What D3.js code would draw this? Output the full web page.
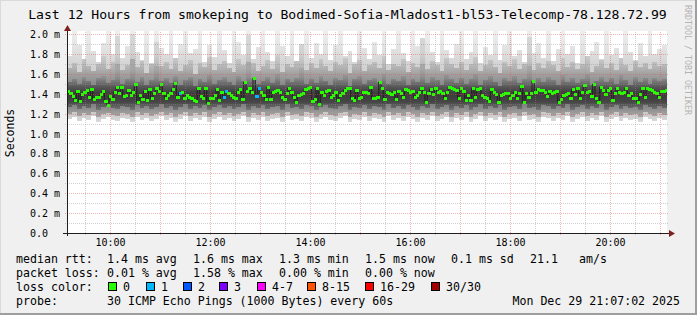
<!DOCTYPE html>
<html>
<head>
<meta charset="utf-8">
<script src="https://cdn.jsdelivr.net/npm/d3@7"></script>
<style>
    body { margin: 0; background: #f0f0f0; }
    svg { display: block; font-family: "DejaVu Sans Mono", monospace; }
</style>
</head>
<body>
<div id="chart"></div>
<script>

// smokeping graph, last 12 hours

// ---- data ----

const chartTitle = 'Last 12 Hours from smokeping to Bodimed-Sofia-Mladost1-bl53-Telecomp-78.128.72.99';
const yAxisTitle = 'Seconds';
const timeStart = new Date(2025, 11, 29, 9, 8);
const timeEnd = new Date(2025, 11, 29, 21, 8);

// median rtt per step, in hundredths of a ms
const medianRtt = [
    143,141,138,134,143,133,140,142,144,137,145,135,137,137,140,143,133,129,138,135,142,147,141,147,138,139,144,139,142,150,
    132,139,135,143,134,145,136,141,146,143,150,141,136,139,141,145,151,137,141,142,136,139,
    137,136,134,133,146,138,136,146,131,136,136,139,145,134,142,137,143,141,139,137,136,142,145,135,152,143,146,142,156,138,
    146,142,139,135,147,135,142,143,144,142,137,135,141,146,142,137,132,139,140,141,145,
    146,147,133,135,146,130,142,139,143,144,137,139,142,134,139,141,144,146,146,136,134,144,136,137,142,142,141,147,136,136,
    137,152,146,135,142,141,140,142,135,143,141,137,145,144,142,143,137,139,142,146,142,
    132,141,145,140,146,142,143,141,136,142,147,146,145,144,136,146,143,134,139,134,146,137,145,146,139,137,136,133,145,142,
    140,132,139,140,141,141,136,139,142,136,141,148,132,141,137,141,153,142,145,144,144,142,
    138,143,141,142,143,132,135,139,140,141,136,145,140,146,136,142,149,142,143,138,150,136,132,147,144,140,144,146,134,141,
    146,142,141,142,146,139,141,136,136,132,140,146,137,146,145,144,142,141,137,143,143,144
];

// steps with lost pings (out of 30)
const lossSteps = [48, 67, 68, 81, 82];
const lossPings = [1, 1, 1, 1, 1];

// smoke: ping distribution per column, in hundredths of a ms
const smokeMax = [
    178,204,189,175,205,183,172,191,205,180,205,176,188,205,182,174,203,171,205,186,
    180,205,173,190,205,181,185,205,172,189,177,205,184,171,205,192,179,205,175,187,
    205,182,173,205,188,178,204,171,184,205,176,191,180,205,174,189,205,178,183,172,
    205,186,175,192,179,205,170,185,205,181,173,205,188,177,203,182,172,205,184,176,
    190,205,175,182,205,171,187,179,205,174,189,205,178,184,172,205,181,191,176,205,
    173,185,205,180,188,171,205,177,183,192,175,205,179,186,170,205,182,174,191,178,
    205,180,185,189
];
const smokeP90 = [
    166,171,162,175,168,163,170,178,165,172,198,164,169,200,167,173,161,170,192,168,
    172,165,176,163,169,174,160,171,167,177,164,170,173,166,162,175,169,199,171,163,
    168,174,165,179,162,170,167,173,190,164,171,166,175,168,163,172,169,176,161,170,
    174,163,169,172,166,178,164,170,168,175,162,171,167,196,165,173,169,163,176,170,
    166,172,164,170,177,163,169,174,167,161,172,168,175,165,170,197,164,171,166,173,
    169,163,176,167,172,165,170,178,162,168,174,166,171,164,176,169,163,173,167,171,
    165,172,168,170
];
const smokeP75 = [
    152,155,150,157,153,149,156,158,151,154,170,150,155,175,152,157,149,154,168,153,
    156,151,158,149,154,157,148,155,152,159,150,154,157,152,149,158,153,172,155,150,
    153,157,151,160,149,155,152,156,166,150,155,151,158,153,149,156,154,159,148,155,
    158,150,154,156,151,160,150,155,153,158,149,155,152,170,151,157,154,149,159,155,
    151,156,150,155,160,149,154,158,152,148,156,153,158,151,155,168,150,156,152,157,
    154,149,159,152,156,151,155,160,149,153,157,152,156,150,159,154,149,157,152,156,
    150,156,153,155
];
const smokeP25 = [
    127,129,125,128,126,130,124,127,129,126,125,128,127,124,129,126,128,125,127,130,
    126,128,124,127,130,125,128,126,129,124,127,129,126,128,125,127,130,124,128,126,
    129,125,127,128,124,130,126,127,125,129,128,124,127,129,126,125,128,130,124,127,
    126,129,125,128,127,124,130,126,128,125,129,127,124,128,126,130,125,127,129,124,
    128,126,129,124,127,130,125,128,126,129,124,127,128,125,130,126,127,124,129,128,
    125,128,126,130,124,127,129,125,128,126,130,124,127,129,125,128,126,127,124,129,
    127,125,128,126
];
const smokeP10 = [
    120,122,118,121,119,122,117,120,121,119,118,121,120,117,122,119,121,118,120,122,
    119,121,117,120,122,118,121,119,122,117,120,122,119,121,118,120,122,117,121,119,
    122,118,120,121,117,122,119,120,118,122,121,117,120,122,119,118,121,122,117,120,
    119,122,118,121,120,117,122,119,121,118,122,120,117,121,119,122,118,120,122,117,
    121,119,122,117,120,122,118,121,119,122,117,120,121,118,122,119,120,117,122,121,
    118,121,119,122,117,120,122,118,121,119,122,117,120,122,118,121,119,120,117,122,
    120,118,121,119
];
const smokeMin = [
    115,117,113,116,114,118,112,115,117,114,113,116,115,112,117,114,116,113,115,118,
    114,116,112,115,118,113,116,114,117,112,115,117,114,116,113,115,118,112,116,114,
    117,113,115,116,112,118,114,115,113,117,116,112,115,117,114,113,116,118,112,115,
    114,117,113,116,115,112,118,114,116,113,117,115,112,116,114,118,113,115,117,112,
    116,114,117,112,115,118,113,116,114,117,112,115,116,113,118,114,115,112,117,116,
    113,116,114,118,112,115,117,113,116,114,118,112,115,117,113,116,114,115,112,117,
    115,113,116,114
];

// axis ticks (ms) and labels
const yMajorTicks = [0, 0.2, 0.4, 0.6, 0.8, 1.0, 1.2, 1.4, 1.6, 1.8, 2.0];
const yTickLabels = ['0.0', '0.2 m', '0.4 m', '0.6 m', '0.8 m', '1.0 m', '1.2 m', '1.4 m', '1.6 m', '1.8 m', '2.0 m'];
const yMinorTicks = [0.1, 0.3, 0.5, 0.7, 0.9, 1.1, 1.3, 1.5, 1.7, 1.9];
const xLabelHours = [10, 12, 14, 16, 18, 20];
const xTickLabels = ['10:00', '12:00', '14:00', '16:00', '18:00', '20:00'];
const xMajorHours = [10, 11, 12, 13, 14, 15, 16, 17, 18, 19, 20, 21];
const xMinorHours = [9.5, 10.5, 11.5, 12.5, 13.5, 14.5, 15.5, 16.5, 17.5, 18.5, 19.5, 20.5];

// legend
const rttLegend = ['1.4 ms avg', '1.6 ms max', '1.3 ms min', '1.5 ms now', '0.1 ms sd', '21.1', 'am/s'];
const lossLegend = ['0.01 % avg', '1.58 % max', '0.00 % min', '0.00 % now'];
const lossLabels = ['0', '1', '2', '3', '4-7', '8-15', '16-29', '30/30'];
const lossColors = ['#26ff00', '#00b8ff', '#0059ff', '#7e00ff', '#ff00ff', '#ff5500', '#ff0000', '#a10000'];
const probeText = '30 ICMP Echo Pings (1000 Bytes) every 60s';
const stampText = 'Mon Dec 29 21:07:02 2025';


// ---- drawing ----

const W = 697, H = 315;
const plot = {left: 67, right: 667, top: 31, bottom: 233};

const svg = d3.select('#chart').append('svg')
    .attr('width', W)
    .attr('height', H);

// background and 3d frame
svg.append('rect').attr('width', W).attr('height', H).attr('fill', '#f0f0f0');
svg.append('rect').attr('x', 0).attr('y', H - 2).attr('width', W).attr('height', 2).attr('fill', '#9e9e9e');
svg.append('rect').attr('x', W - 2).attr('y', 0).attr('width', 2).attr('height', H).attr('fill', '#9e9e9e');
svg.append('rect').attr('x', 0).attr('y', 0).attr('width', W - 2).attr('height', 1).attr('fill', '#dadada');
svg.append('rect').attr('x', 0).attr('y', 0).attr('width', 1).attr('height', H - 2).attr('fill', '#dadada');

// canvas
svg.append('rect')
    .attr('x', plot.left).attr('y', plot.top)
    .attr('width', plot.right - plot.left).attr('height', plot.bottom - plot.top)
    .attr('fill', '#ffffff');

// scales
const x = d3.scaleTime()
    .domain([timeStart, timeEnd])
    .range([plot.left, plot.right])
    .interpolate(d3.interpolateRound);

const y = d3.scaleLinear()
    .domain([0, 2])
    .range([plot.bottom, 34])
    .interpolate(d3.interpolateRound);

const hourToDate = h => new Date(2025, 11, 29, Math.floor(h), Math.round((h % 1) * 60));

svg.append('clipPath').attr('id', 'plotClip')
    .append('rect')
    .attr('x', plot.left).attr('y', plot.top)
    .attr('width', plot.right - plot.left).attr('height', plot.bottom - plot.top);

// vertical shading of the smoke layers, darker towards the median,
// matched at the layer edges so the bands blend like smoke
const defs = svg.append('defs');
function addShade(id, stops) {
    let g = defs.append('linearGradient')
        .attr('id', id)
        .attr('gradientUnits', 'userSpaceOnUse')
        .attr('x1', 0).attr('x2', 0)
        .attr('y1', y(2.0)).attr('y2', y(1.1));
    stops.forEach(s => g.append('stop').attr('offset', (2.0 - s[0]) / 0.9).attr('stop-color', s[1]));
}
addShade('lightSmoke', [[2.0, '#ededed'], [1.85, '#e2e2e2'], [1.7, '#d4d4d4'], [1.5, '#cbcbcb'], [1.2, '#cbcbcb'], [1.1, '#dddddd']]);
addShade('midSmoke', [[2.0, '#d8d8d8'], [1.8, '#d0d0d0'], [1.7, '#bcbcbc'], [1.6, '#a2a2a2'], [1.5, '#8a8a8a'], [1.3, '#7e7e7e'], [1.2, '#a0a0a0'], [1.1, '#b4b4b4']]);
addShade('coreSmoke', [[2.0, '#b0b0b0'], [1.65, '#a6a6a6'], [1.56, '#8c8c8c'], [1.47, '#565656'], [1.4, '#3c3c3c'], [1.32, '#464646'], [1.24, '#767676'], [1.1, '#909090']]);

const data = svg.append('g').attr('clip-path', 'url(#plotClip)');

// smoke columns
const nSmoke = smokeMax.length;
const smokeStep = (timeEnd - timeStart) / nSmoke;
const smokeX0 = j => x(new Date(+timeStart + j * smokeStep));
const smokeX1 = j => x(new Date(+timeStart + (j + 1) * smokeStep));

const smokeLayers = [
    {lo: smokeMin, hi: smokeMax, fill: 'url(#lightSmoke)'},
    {lo: smokeP10, hi: smokeP90, fill: 'url(#midSmoke)'},
    {lo: smokeP25, hi: smokeP75, fill: 'url(#coreSmoke)'}
];

smokeLayers.forEach(layer => {
    data.append('g')
        .selectAll('rect')
        .data(d3.range(nSmoke))
        .join('rect')
        .attr('x', j => smokeX0(j))
        .attr('width', j => smokeX1(j) - smokeX0(j))
        .attr('y', j => y(layer.hi[j] / 100))
        .attr('height', j => y(layer.lo[j] / 100) - y(layer.hi[j] / 100))
        .attr('fill', layer.fill)
        .attr('shape-rendering', 'crispEdges');
});

// median line
const nSteps = medianRtt.length;
const step = (timeEnd - timeStart) / nSteps;
const stepX0 = i => x(new Date(+timeStart + i * step));
const stepX1 = i => x(new Date(+timeStart + (i + 1) * step));

const medianLine = d3.line()
    .x((d, i) => (stepX0(i) + stepX1(i)) / 2)
    .y(d => y(d / 100))
    .curve(d3.curveStep);

data.append('path')
    .datum(medianRtt)
    .attr('d', medianLine)
    .attr('fill', 'none')
    .attr('stroke', '#1c1c1c')
    .attr('stroke-width', 1);

const lossClass = n => n === 0 ? 0 : n <= 3 ? n : n <= 7 ? 4 : n <= 15 ? 5 : n <= 29 ? 6 : 7;
const lossAt = i => {
    let k = lossSteps.indexOf(i);
    return k < 0 ? 0 : lossPings[k];
};

data.append('g')
    .selectAll('rect')
    .data(medianRtt)
    .join('rect')
    .attr('x', (d, i) => stepX0(i))
    .attr('width', (d, i) => stepX1(i) - stepX0(i) + 1)
    .attr('y', d => y(d / 100) - 1)
    .attr('height', 3)
    .attr('fill', (d, i) => lossColors[lossClass(lossAt(i))])
    .attr('shape-rendering', 'crispEdges');

// grid (drawn over the data, like rrdtool)
const styleGrid = (g, colour, opacity) => {
    g.select('.domain').remove();
    g.selectAll('line')
        .attr('stroke', colour)
        .attr('stroke-opacity', opacity)
        .attr('stroke-dasharray', '1,1');
};

svg.append('g')
    .attr('transform', `translate(${plot.left - 2}, 0)`)
    .call(d3.axisLeft(y).tickValues(yMinorTicks).tickSize(-(plot.right - plot.left + 4)).tickFormat(''))
    .call(g => styleGrid(g, '#8f8f8f', 0.42));

svg.append('g')
    .attr('transform', `translate(0, ${plot.bottom + 2})`)
    .call(d3.axisBottom(x).tickValues(xMinorHours.map(hourToDate)).tickSize(-(plot.bottom - plot.top + 2)).tickFormat(''))
    .call(g => styleGrid(g, '#8f8f8f', 0.42));

svg.append('g')
    .attr('transform', `translate(${plot.left - 2}, 0)`)
    .call(d3.axisLeft(y).tickValues(yMajorTicks.slice(1)).tickSize(-(plot.right - plot.left + 4)).tickFormat(''))
    .call(g => styleGrid(g, '#de5050', 0.42));

svg.append('g')
    .attr('transform', `translate(0, ${plot.bottom + 2})`)
    .call(d3.axisBottom(x).tickValues(xMajorHours.map(hourToDate)).tickSize(-(plot.bottom - plot.top + 2)).tickFormat(''))
    .call(g => styleGrid(g, '#de5050', 0.42));

// axes
svg.append('line')
    .attr('x1', plot.left - 4).attr('x2', plot.right + 3)
    .attr('y1', plot.bottom + 0.5).attr('y2', plot.bottom + 0.5)
    .attr('stroke', '#1f1f1f');
svg.append('line')
    .attr('x1', plot.left + 0.5).attr('x2', plot.left + 0.5)
    .attr('y1', plot.bottom + 3).attr('y2', plot.top - 2)
    .attr('stroke', '#1f1f1f');

// arrows
svg.append('path')
    .attr('d', `M${plot.left - 3},${plot.top} L${plot.left + 4},${plot.top} L${plot.left + 0.5},${plot.top - 6} Z`)
    .attr('fill', '#7f1f1f');
svg.append('path')
    .attr('d', `M${plot.right + 2},${plot.bottom - 3} L${plot.right + 2},${plot.bottom + 4} L${plot.right + 8},${plot.bottom + 0.5} Z`)
    .attr('fill', '#7f1f1f');

// tick labels
svg.append('g')
    .attr('transform', `translate(${plot.left}, 0)`)
    .call(d3.axisLeft(y).tickValues(yMajorTicks).tickSize(0).tickFormat((d, i) => yTickLabels[i]))
    .call(g => {
        g.select('.domain').remove();
        g.attr('font-family', null).attr('font-size', null);
        g.selectAll('text')
            .attr('x', 30 - plot.left)
            .attr('text-anchor', 'start')
            .attr('font-size', '10px')
            .attr('fill', '#000');
    });

svg.append('g')
    .attr('transform', `translate(0, ${plot.bottom})`)
    .call(d3.axisBottom(x).tickValues(xLabelHours.map(hourToDate)).tickSize(0).tickPadding(6).tickFormat((d, i) => xTickLabels[i]))
    .call(g => {
        g.select('.domain').remove();
        g.attr('font-family', null).attr('font-size', null);
        g.selectAll('text')
            .attr('font-size', '10px')
            .attr('fill', '#000');
    });

// titles
svg.append('text')
    .attr('x', 347.5).attr('y', 19)
    .attr('text-anchor', 'middle')
    .attr('font-size', '13.1px')
    .text(chartTitle);

svg.append('text')
    .attr('transform', 'translate(14, 133) rotate(-90)')
    .attr('text-anchor', 'middle')
    .attr('font-size', '11.5px')
    .text(yAxisTitle);

svg.append('text')
    .attr('transform', 'translate(685, 5) rotate(90)')
    .attr('font-size', '8.3px')
    .attr('fill', '#b4b4b4')
    .text('RRDTOOL / TOBI OETIKER');

// legend
const legend = svg.append('g').attr('font-size', '11.6px');
const rowY = [263, 277, 291, 305];
const colX = [107, 193, 279, 365, 451, 530, 579];

legend.append('text').attr('x', 16).attr('y', rowY[0]).text('median rtt:');
legend.selectAll('.rtt').data(rttLegend).join('text')
    .attr('class', 'rtt')
    .attr('x', (d, i) => colX[i]).attr('y', rowY[0])
    .text(d => d);

legend.append('text').attr('x', 16).attr('y', rowY[1]).text('packet loss:');
legend.selectAll('.loss').data(lossLegend).join('text')
    .attr('class', 'loss')
    .attr('x', (d, i) => colX[i]).attr('y', rowY[1])
    .text(d => d);

legend.append('text').attr('x', 16).attr('y', rowY[2]).text('loss color:');
const boxX = [108, 146, 183, 219, 257, 307, 365, 431];
legend.selectAll('.lossbox').data(lossColors).join('rect')
    .attr('class', 'lossbox')
    .attr('x', (d, i) => boxX[i] + 0.5).attr('y', rowY[2] - 8.5)
    .attr('width', 8).attr('height', 8)
    .attr('fill', d => d)
    .attr('stroke', '#000');
legend.selectAll('.losslabel').data(lossLabels).join('text')
    .attr('class', 'losslabel')
    .attr('x', (d, i) => boxX[i] + 15).attr('y', rowY[2])
    .text(d => d);

legend.append('text').attr('x', 16).attr('y', rowY[3]).text('probe:');
legend.append('text').attr('x', 107).attr('y', rowY[3]).text(probeText);
legend.append('text').attr('x', 680).attr('y', rowY[3]).attr('text-anchor', 'end').text(stampText);

</script>
</body>
</html>
